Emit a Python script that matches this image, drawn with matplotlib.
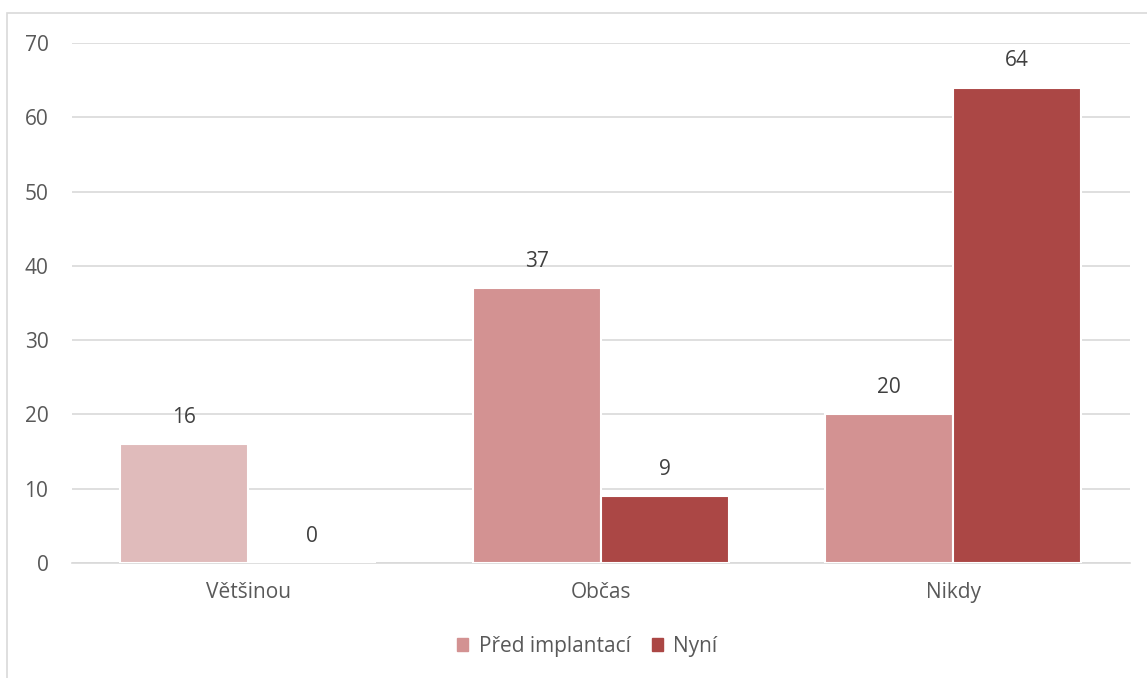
import numpy as np
import matplotlib.pyplot as plt
from matplotlib.patches import Rectangle, Patch

plt.rcParams['font.family'] = ['Open Sans', 'DejaVu Sans']

# data
categories = ["Většinou", "Občas", "Nikdy"]
series_names = ["Před implantací", "Nyní"]
pred = [16, 37, 20]
nyni = [0, 9, 64]

pred_colors = ["#E0BBBB", "#D39292", "#D39292"]
nyni_color = "#AB4745"
text_color = "#595959"

fig = plt.figure(figsize=(11.47, 6.78), dpi=100)
ax = fig.add_axes([0.0628, 0.1696, 0.922, 0.767])

# outer chart frame
fig.patches.append(Rectangle((7 / 1147, -0.05), 1.1, 1 - 13 / 678 + 0.05,
                             transform=fig.transFigure, fill=False,
                             edgecolor="#D9D9D9", linewidth=1.2))

x = np.arange(len(categories))
w = 0.363

b1 = ax.bar(x - w / 2, pred, w, color=pred_colors, edgecolor="white", linewidth=1.5, zorder=3)
b2 = ax.bar(x + w / 2, nyni, w, color=nyni_color, edgecolor="white", linewidth=1.5, zorder=3)

for bars, vals in ((b1, pred), (b2, nyni)):
    for rect, v in zip(bars, vals):
        ax.text(rect.get_x() + rect.get_width() / 2, v + 2.2, str(v),
                ha="center", va="bottom", fontsize=15, color="#404040")

ax.set_xlim(-0.5, 2.5)
ax.set_ylim(0, 70)
ax.set_yticks(np.arange(0, 71, 10))
ax.set_xticks(x, labels=categories)
ax.grid(axis="y", color="#D9D9D9", linewidth=1.2, zorder=0)
for s in ax.spines.values():
    s.set_visible(False)
ax.spines["bottom"].set_visible(True)
ax.spines["bottom"].set_color("#D9D9D9")
ax.spines["bottom"].set_linewidth(1.2)
ax.tick_params(length=0, labelsize=15, colors=text_color)
ax.tick_params(axis="y", pad=17)
ax.tick_params(axis="x", pad=14)

handles = [Patch(color="#D39292"), Patch(color=nyni_color)]
fig.legend(handles, series_names, loc="center", bbox_to_anchor=(0.512, 0.047),
           ncol=2, frameon=False, fontsize=15, labelcolor=text_color,
           handlelength=0.55, handleheight=0.55, handletextpad=0.5, columnspacing=1.0)

fig.savefig("out.png", dpi=100)
